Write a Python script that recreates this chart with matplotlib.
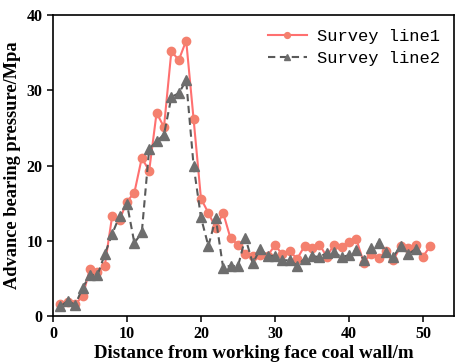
import matplotlib
matplotlib.use("Agg")
import matplotlib.pyplot as plt

# distance from working face (m)
dist1 = list(range(1, 52))
dist2 = list(range(1, 50))

# Survey line1 pressure (MPa)
line1 = [1.6, 1.8, 1.6, 2.6, 6.3, 5.9, 6.7, 13.3, 12.8, 15.2,
         16.4, 21.0, 19.3, 27.0, 25.1, 35.2, 34.0, 36.6, 26.2, 15.6,
         13.7, 11.7, 13.7, 10.3, 9.5, 8.3, 8.0, 8.1, 8.0, 9.4,
         8.2, 8.6, 7.6, 9.3, 9.0, 9.5, 7.9, 9.5, 9.2, 9.9,
         10.2, 7.1, 8.3, 7.7, 8.6, 7.4, 9.3, 9.0, 9.5, 7.9,
         9.3]

# Survey line2 pressure (MPa)
line2 = [1.3, 2.0, 1.5, 3.7, 5.5, 5.4, 8.2, 10.9, 13.3, 14.9,
         9.7, 11.1, 22.2, 23.2, 24.1, 29.1, 29.6, 31.3, 20.0, 13.1,
         9.3, 13.0, 6.4, 6.7, 6.6, 10.4, 7.0, 8.9, 8.0, 8.0,
         7.4, 7.4, 6.7, 7.6, 8.0, 7.8, 8.4, 8.5, 7.8, 8.1,
         8.8, 7.5, 9.0, 9.7, 8.5, 7.9, 9.3, 8.2, 8.9]

xticks = [0, 10, 20, 30, 40, 50]
yticks = [0, 10, 20, 30, 40]

serif = ["Liberation Serif", "DejaVu Serif"]

fig = plt.figure(figsize=(4.55, 3.64), dpi=100)
ax = fig.add_axes([53 / 455, 48 / 364, 401 / 455, 301 / 364])

ax.plot(dist1, line1, color="#ff7070", lw=1.5, marker="o", ms=6,
        mfc="#f4806e", mec="#f4806e", label="Survey line1")
ax.plot(dist2, line2, color="#5a5a5a", lw=1.5, ls=(0, (3.5, 2.2)), marker="^",
        ms=6.5, mfc="#6e6e6e", mec="#6e6e6e", label="Survey line2")

ax.set_xlim(0, 54.2)
ax.set_ylim(0, 40)
ax.set_xticks(xticks)
ax.set_yticks(yticks)
ax.tick_params(direction="out", length=4, width=1.1, top=False, right=False)
for lab in ax.get_xticklabels() + ax.get_yticklabels():
    lab.set_fontfamily(serif)
    lab.set_fontweight("bold")
    lab.set_fontsize(11.5)
for s in ax.spines.values():
    s.set_linewidth(1.2)

ax.set_xlabel("Distance from working face coal wall/m", fontfamily=serif,
              fontweight="bold", fontsize=13.6, labelpad=2)
ax.set_ylabel("Advance bearing pressure/Mpa", fontfamily=serif,
              fontweight="bold", fontsize=13.2, labelpad=4)

ax.legend(loc="upper right", frameon=False, prop={"family": "Liberation Mono", "size": 12.3},
          handlelength=2.3, handletextpad=0.6, labelspacing=0.45,
          borderaxespad=0.4, markerscale=0.7)

fig.savefig("out.png", dpi=100)
